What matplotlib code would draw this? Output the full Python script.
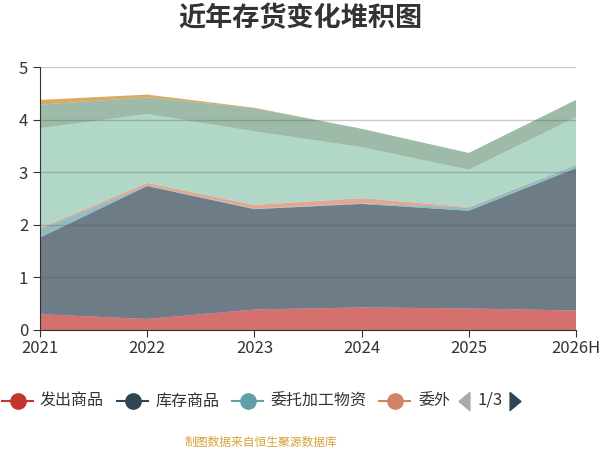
import numpy as np
import matplotlib.pyplot as plt
from matplotlib.lines import Line2D

plt.rcParams['font.family'] = ['Noto Sans CJK SC', 'DejaVu Sans']

# 数据（亿元），从下往上堆叠
years = ['2021', '2022', '2023', '2024', '2025', '2026H']
names = ['发出商品', '库存商品', '委托加工物资', '委外加工', '原材料', '在产品', '周转材料']
fachu = [0.30, 0.21, 0.39, 0.43, 0.41, 0.37]
kucun = [1.46, 2.53, 1.91, 1.97, 1.86, 2.71]
weituo = [0.16, 0.01, 0.01, 0.01, 0.06, 0.06]
weiwai = [0.02, 0.05, 0.07, 0.10, 0.01, 0.00]
yuancailiao = [1.90, 1.31, 1.40, 0.97, 0.71, 0.91]
zaichanpin = [0.45, 0.32, 0.44, 0.35, 0.32, 0.33]
zhouzhuan = [0.09, 0.05, 0.01, 0.00, 0.00, 0.00]
colors = ['#c23531', '#2f4554', '#61a0a8', '#d48265', '#91c7ae', '#749f83', '#ca8622']

series = [fachu, kucun, weituo, weiwai, yuancailiao, zaichanpin, zhouzhuan]

fig = plt.figure(figsize=(6, 4.5), dpi=100)
ax = fig.add_axes([40 / 600, 120 / 450, 536 / 600, 262.7 / 450])

x = np.arange(len(years))
ax.stackplot(x, *series, colors=colors, alpha=0.7, linewidth=0)

ax.set_xlim(0, len(years) - 1)
ax.set_ylim(0, 5)
ax.set_xticks(x)
ax.set_xticklabels(years)
ax.set_yticks(range(6))
ax.yaxis.grid(True, color='#555555', alpha=0.3, linewidth=1)
ax.set_axisbelow(False)
for s in ['top', 'right']:
    ax.spines[s].set_visible(False)
for s in ['left', 'bottom']:
    ax.spines[s].set_color('#333333')
ax.tick_params(axis='both', colors='#333333', labelsize=12, length=5)
ax.tick_params(axis='x', pad=2)

# 标题
fig.text(0.5, 1 - 18 / 450, '近年存货变化堆积图', ha='center', va='center',
         fontsize=19.5, fontweight='bold', color='#333333')

# 被裁掉的纵轴名称
fig.text(-0.012, 1 - 88 / 450, '单位：亿元', rotation=90, ha='center', va='center',
         fontsize=9, color='#c23531')

# 图例（第一页）
leg_y = 1 - 401 / 450
items = [(2, 40, names[0]), (117, 155, names[1]), (232, 270, names[2]), (379, 418, '委外')]
for i, (lx, tx, lab) in enumerate(items):
    fig.add_artist(Line2D([lx / 600, (lx + 31) / 600], [leg_y, leg_y], color=colors[i],
                          lw=1.5, transform=fig.transFigure))
    fig.add_artist(Line2D([(lx + 15.5) / 600], [leg_y], marker='o', markersize=11,
                          color=colors[i], transform=fig.transFigure))
    fig.text(tx / 600, leg_y, lab, ha='left', va='center', fontsize=11.5, color='#333333')

# 翻页按钮
left_tri = [(0.6, 1), (-0.6, 0), (0.6, -1), (0.6, 1)]
right_tri = [(-0.6, 1), (0.6, 0), (-0.6, -1), (-0.6, 1)]
fig.add_artist(Line2D([464 / 600], [leg_y], marker=left_tri, markersize=13,
                      color='#aaaaaa', linestyle='none', transform=fig.transFigure))
fig.text(490 / 600, leg_y + 0.002, '1/3', ha='center', va='center', fontsize=12, color='#333333')
fig.add_artist(Line2D([515 / 600], [leg_y], marker=right_tri, markersize=13,
                      color='#2f4554', linestyle='none', transform=fig.transFigure))

# 数据来源
fig.text(261 / 600, 1 - 442 / 450, '制图数据来自恒生聚源数据库', ha='center', va='center',
         fontsize=8.5, color='#d4a23a')

fig.savefig('out.png', dpi=100)
